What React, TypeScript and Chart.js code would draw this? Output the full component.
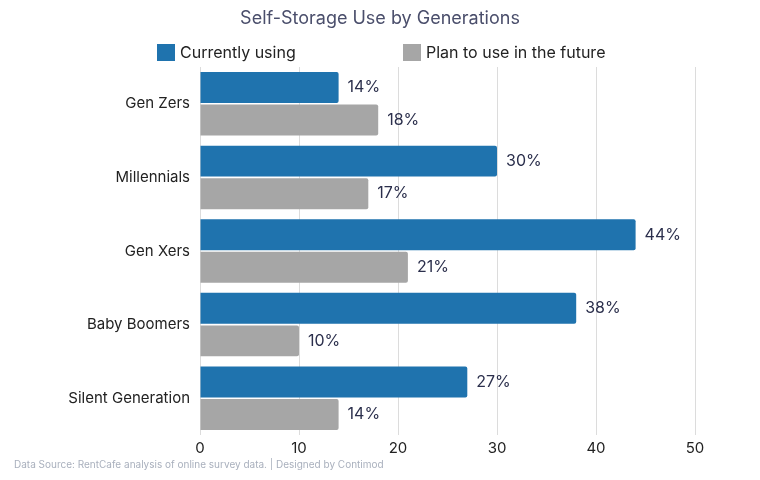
import React, { useEffect, useRef } from "react";
import { Chart, registerables } from "chart.js";

Chart.register(...registerables);

const categories = ["Gen Zers", "Millennials", "Gen Xers", "Baby Boomers", "Silent Generation"];
const currentlyUsing = [14, 30, 44, 38, 27];
const planToUse = [18, 17, 21, 10, 14];
const xTicks = [0, 10, 20, 30, 40, 50];
const seriesNames = ["Currently using", "Plan to use in the future"];
const seriesColors = ["#1f73ae", "#a6a6a6"];
const titleText = "Self-Storage Use by Generations";
const footerText = "Data Source: RentCafe analysis of online survey data. | Designed by Contimod";

const FONT = "Inter, 'Noto Sans', sans-serif";

const decorations = {
  id: "decorations",
  afterDraw(chart: any) {
    const ctx = chart.ctx;
    ctx.save();
    ctx.font = `400 18px ${FONT}`;
    ctx.fillStyle = "#4a4e6b";
    ctx.textAlign = "center";
    ctx.textBaseline = "middle";
    ctx.fillText(titleText, 380, 19);
    const legendX = [157, 403];
    ctx.font = `400 16px ${FONT}`;
    ctx.textAlign = "left";
    chart.data.datasets.forEach((ds: any, i: number) => {
      ctx.fillStyle = ds.backgroundColor;
      ctx.fillRect(legendX[i], 44, 18, 17);
      ctx.fillStyle = "#222";
      ctx.fillText(ds.label, legendX[i] + 23, 53);
    });
    ctx.font = `400 10px ${FONT}`;
    ctx.fillStyle = "#a9b0bd";
    ctx.fillText(footerText, 14, 465);
    ctx.restore();
  },
  afterDatasetsDraw(chart: any) {
    const ctx = chart.ctx;
    ctx.save();
    ctx.font = `400 16px ${FONT}`;
    ctx.fillStyle = "#2b2f4c";
    ctx.textAlign = "left";
    ctx.textBaseline = "middle";
    chart.data.datasets.forEach((ds: any, i: number) => {
      const meta = chart.getDatasetMeta(i);
      meta.data.forEach((bar: any, j: number) => {
        ctx.fillText(`${ds.data[j]}%`, bar.x + 9, bar.y);
      });
    });
    ctx.restore();
  },
};

export default function App() {
  const ref = useRef<HTMLCanvasElement>(null);
  useEffect(() => {
    document.body.style.margin = "0";
    const chart = new Chart(ref.current!, {
      type: "bar",
      data: {
        labels: categories,
        datasets: [
          {
            label: seriesNames[0],
            data: currentlyUsing,
            backgroundColor: seriesColors[0],
            borderRadius: 2,
            borderSkipped: "start",
            barPercentage: 0.95,
            categoryPercentage: 0.885,
          },
          {
            label: seriesNames[1],
            data: planToUse,
            backgroundColor: seriesColors[1],
            borderRadius: 2,
            borderSkipped: "start",
            barPercentage: 0.95,
            categoryPercentage: 0.885,
          },
        ],
      },
      options: {
        indexAxis: "y",
        animation: false,
        responsive: false,
        layout: { padding: { left: 0, right: 65, top: 67, bottom: 19 } },
        plugins: {
          title: { display: false },
          legend: { display: false },
          tooltip: { enabled: false },
        },
        scales: {
          x: {
            min: 0,
            max: 50,
            afterBuildTicks: (s: any) => {
              s.ticks = xTicks.map((v) => ({ value: v }));
            },
            grid: { color: "#dcdcdc", drawTicks: false },
            border: { display: false },
            ticks: { color: "#222", font: { family: FONT, size: 15 }, padding: 4 },
          },
          y: {
            grid: { display: false, drawTicks: false },
            border: { display: false },
            ticks: { color: "#222", font: { family: FONT, size: 15 }, padding: 10 },
            afterFit: (s: any) => {
              s.width = 200;
            },
          },
        },
      },
      plugins: [decorations],
    });
    return () => chart.destroy();
  }, []);
  return <canvas ref={ref} width={760} height={480} style={{ display: "block" }} />;
}
